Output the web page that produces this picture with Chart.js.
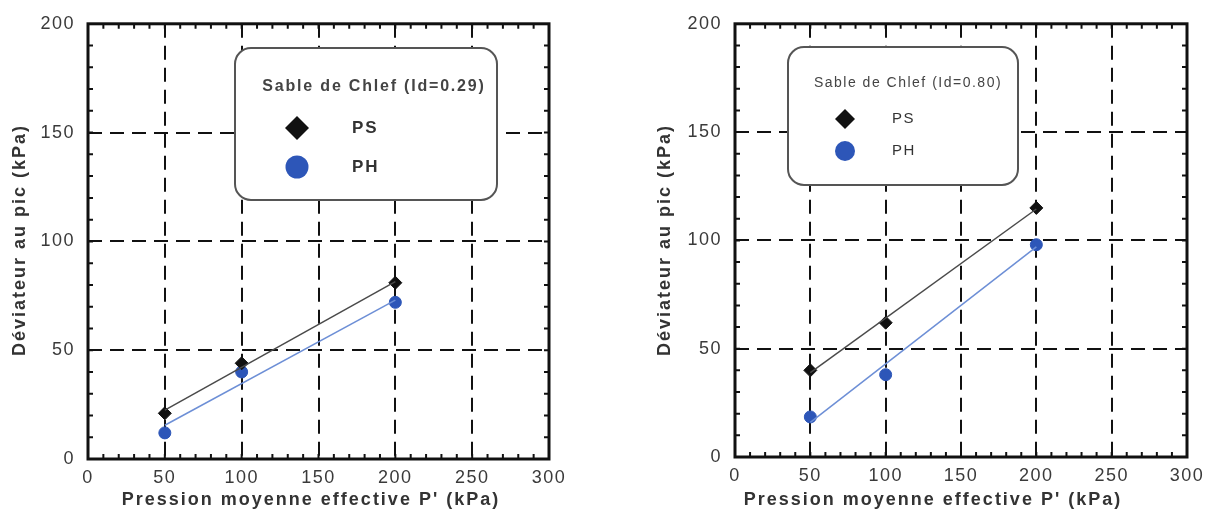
<!DOCTYPE html>
<html lang="fr">
<head>
<meta charset="UTF-8">
<title>Déviateur au pic - Sable de Chlef</title>
<script src="https://cdn.jsdelivr.net/npm/chart.js"></script>
<style>
  body { margin: 0; background: #fff; width: 1215px; height: 518px; overflow: hidden; position: relative; }
  canvas { position: absolute; top: 0; }
  #chartLow { left: 0; }
  #chartHigh { left: 640px; }
</style>
</head>
<body>
<canvas id="chartLow" width="600" height="518"></canvas>
<canvas id="chartHigh" width="575" height="518"></canvas>
<script>
const pressure = [50, 100, 200];
const fitPressure = [50, 200];
const xTicks = [0, 50, 100, 150, 200, 250, 300];
const yTicks = [0, 50, 100, 150, 200];

// Id = 0.29
const psLow = [21, 44, 81];
const phLow = [12, 40, 72];
const psLowFit = [22.5, 81.5];
const phLowFit = [15.5, 73];

// Id = 0.80
const psHigh = [40, 62, 115];
const phHigh = [18.5, 38, 98];
const psHighFit = [39, 114.5];
const phHighFit = [16, 97];

const FONT = "'Liberation Sans', Arial, sans-serif";
const BLACK = '#111';
const BLUE = '#2d56b8';

function roundBox(ctx, x, y, w, h, r) {
  ctx.beginPath();
  ctx.moveTo(x + r, y);
  ctx.arcTo(x + w, y, x + w, y + h, r);
  ctx.arcTo(x + w, y + h, x, y + h, r);
  ctx.arcTo(x, y + h, x, y, r);
  ctx.arcTo(x, y, x + w, y, r);
  ctx.closePath();
}

function decorPlugin(o) {
  return {
    id: 'decor',
    beforeDraw(chart) {
      // the source figure uses a wide, loosely spaced sans
      chart.ctx.letterSpacing = '1.5px';
    },
    afterDraw(chart) {
      const ctx = chart.ctx, a = chart.chartArea;
      const xs = chart.scales.x, ys = chart.scales.y;
      ctx.save();

      // small inward ticks on the four sides
      ctx.strokeStyle = BLACK;
      ctx.lineWidth = 2;
      ctx.beginPath();
      for (let v = 10; v < 300; v += 10) {
        const px = xs.getPixelForValue(v);
        ctx.moveTo(px, a.bottom); ctx.lineTo(px, a.bottom - 5);
        ctx.moveTo(px, a.top); ctx.lineTo(px, a.top + 5);
      }
      for (let v = 10; v < 200; v += 10) {
        const py = ys.getPixelForValue(v);
        ctx.moveTo(a.left, py); ctx.lineTo(a.left + 5, py);
        ctx.moveTo(a.right, py); ctx.lineTo(a.right - 5, py);
      }
      ctx.stroke();

      // frame
      ctx.lineWidth = 3;
      ctx.strokeRect(a.left, a.top, a.right - a.left, a.bottom - a.top);

      // axis titles
      ctx.fillStyle = '#333';
      ctx.font = 'bold 18px ' + FONT;
      ctx.letterSpacing = '2px';
      ctx.textAlign = 'center';
      ctx.textBaseline = 'middle';
      ctx.fillText("Pression moyenne effective P' (kPa)", o.xTitle[0], o.xTitle[1]);
      ctx.save();
      ctx.translate(o.yTitle[0], o.yTitle[1]);
      ctx.rotate(-Math.PI / 2);
      ctx.fillText('Déviateur au pic (kPa)', 0, 0);
      ctx.restore();

      // legend box
      const b = o.box;
      roundBox(ctx, b.x, b.y, b.w, b.h, 16);
      ctx.fillStyle = '#fff';
      ctx.fill();
      ctx.strokeStyle = '#555';
      ctx.lineWidth = 2;
      ctx.stroke();

      ctx.fillStyle = '#444';
      ctx.font = b.titleFont + FONT;
      ctx.letterSpacing = b.spacing;
      ctx.textAlign = 'center';
      ctx.fillText(b.title, b.titleX, b.titleY);

      // legend markers
      ctx.fillStyle = BLACK;
      ctx.beginPath();
      ctx.moveTo(b.markX, b.psY - b.d);
      ctx.lineTo(b.markX + b.d, b.psY);
      ctx.lineTo(b.markX, b.psY + b.d);
      ctx.lineTo(b.markX - b.d, b.psY);
      ctx.closePath();
      ctx.fill();
      ctx.fillStyle = BLUE;
      ctx.beginPath();
      ctx.arc(b.markX, b.phY, b.r, 0, Math.PI * 2);
      ctx.fill();

      ctx.fillStyle = '#333';
      ctx.font = b.labelFont + FONT;
      ctx.textAlign = 'left';
      ctx.fillText('PS', b.labelX, b.psY);
      ctx.fillText('PH', b.labelX, b.phY);

      ctx.restore();
    }
  };
}

function makeData(ps, ph, psFit, phFit) {
  return {
    datasets: [
      { label: 'PS fit', data: fitPressure.map((x, i) => ({ x: x, y: psFit[i] })), showLine: true,
        borderColor: '#4a4a4a', borderWidth: 1.5, pointRadius: 0 },
      { label: 'PH fit', data: fitPressure.map((x, i) => ({ x: x, y: phFit[i] })), showLine: true,
        borderColor: '#6d8fd6', borderWidth: 1.5, pointRadius: 0 },
      { label: 'PS', data: pressure.map((x, i) => ({ x: x, y: ps[i] })), showLine: false,
        pointStyle: 'rectRot', pointRadius: 6.5, backgroundColor: BLACK, borderColor: BLACK },
      { label: 'PH', data: pressure.map((x, i) => ({ x: x, y: ph[i] })), showLine: false,
        pointStyle: 'circle', pointRadius: 6, backgroundColor: BLUE, borderColor: BLUE }
    ]
  };
}

function makeScales(yWidth, xHeight) {
  const tickFont = { family: FONT, size: 18 };
  return {
    x: {
      type: 'linear', min: 0, max: 300,
      afterBuildTicks: s => { s.ticks = xTicks.map(v => ({ value: v })); },
      afterFit: s => { s.height = xHeight; },
      grid: { color: BLACK, lineWidth: 2, drawTicks: false },
      border: { display: false, dash: [14, 8] },
      ticks: { padding: 8, color: '#3a3a3a', font: tickFont }
    },
    y: {
      type: 'linear', min: 0, max: 200,
      afterBuildTicks: s => { s.ticks = yTicks.map(v => ({ value: v })); },
      afterFit: s => { s.width = yWidth; },
      grid: { color: BLACK, lineWidth: 2, drawTicks: false },
      border: { display: false, dash: [14, 8] },
      ticks: { padding: 13, color: '#3a3a3a', font: tickFont }
    }
  };
}

function makeChart(id, data, scales, padding, decor) {
  return new Chart(document.getElementById(id), {
    type: 'scatter',
    data: data,
    options: {
      responsive: false,
      animation: false,
      layout: { padding: padding },
      plugins: { legend: { display: false }, tooltip: { enabled: false } },
      scales: scales
    },
    plugins: [decorPlugin(decor)]
  });
}

makeChart('chartLow', makeData(psLow, phLow, psLowFit, phLowFit), makeScales(88, 59),
  { left: 0, right: 51, top: 22, bottom: 0 },
  { xTitle: [311, 500], yTitle: [20, 240],
    box: { x: 235, y: 48, w: 262, h: 152, title: 'Sable de Chlef (Id=0.29)', titleFont: 'bold 16px ',
           spacing: '1.8px', titleX: 374, titleY: 87, markX: 297, psY: 128, phY: 167, d: 12, r: 11.5,
           labelX: 352, labelFont: 'bold 17px ' } });

makeChart('chartHigh', makeData(psHigh, phHigh, psHighFit, phHighFit), makeScales(95, 61),
  { left: 0, right: 28, top: 22, bottom: 0 },
  { xTitle: [293, 500], yTitle: [25, 240],
    box: { x: 148, y: 47, w: 230, h: 138, title: 'Sable de Chlef (Id=0.80)', titleFont: '14px ',
           spacing: '1.5px', titleX: 268, titleY: 83, markX: 205, psY: 119, phY: 151, d: 10, r: 10,
           labelX: 252, labelFont: '15px ' } });
</script>
</body>
</html>
